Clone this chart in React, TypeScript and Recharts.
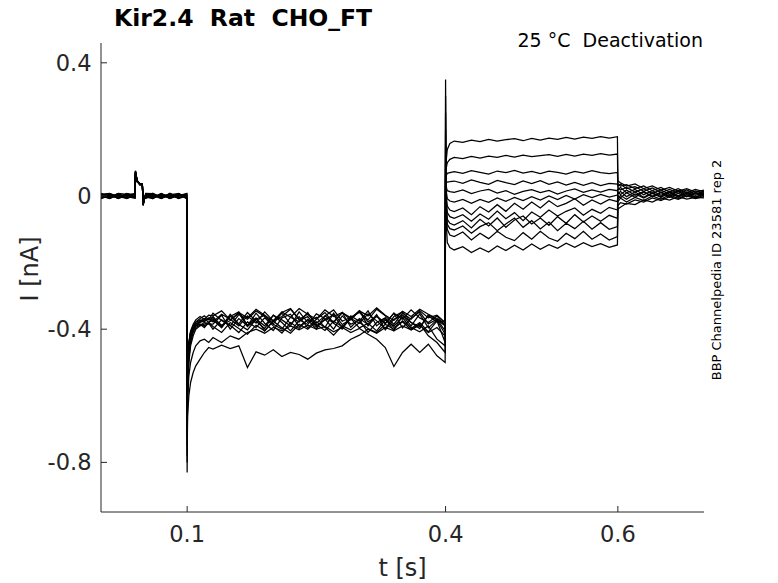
import React from 'react';
import { LineChart, Line, XAxis, YAxis } from 'recharts';

// sample times (s) for each part of the protocol
const tHold = [0, 0.01, 0.02, 0.03, 0.0395, 0.04, 0.042, 0.045, 0.048, 0.049, 0.05, 0.052, 0.06, 0.07, 0.08, 0.09, 0.0995];
const tStep = [0.1, 0.1005, 0.102, 0.104, 0.107, 0.11, 0.115, 0.12, 0.125, 0.13, 0.14, 0.15, 0.16, 0.17, 0.18, 0.19, 0.2, 0.21, 0.22, 0.23, 0.24, 0.25, 0.26, 0.27, 0.28, 0.29, 0.3, 0.31, 0.32, 0.33, 0.34, 0.35, 0.36, 0.37, 0.38, 0.39, 0.3995];
const tTest = [0.4, 0.4005, 0.402, 0.405, 0.41, 0.42, 0.43, 0.44, 0.45, 0.46, 0.47, 0.48, 0.49, 0.5, 0.51, 0.52, 0.53, 0.54, 0.55, 0.56, 0.57, 0.58, 0.59, 0.5995];
const tTail = [0.6, 0.6005, 0.603, 0.61, 0.62, 0.63, 0.64, 0.65, 0.66, 0.67, 0.68, 0.69, 0.7];

// current (nA) per sweep, holding part
const holdSweeps = [
  [0.006, -0.004, 0.007, -0.006, 0.003, 0.075, 0.046, 0.037, 0.035, -0.026, -0.008, 0.004, -0.006, 0.007, -0.004, 0.006, -0.002],
  [-0.007, 0.005, -0.004, 0.008, -0.002, 0.072, 0.044, 0.035, 0.033, -0.028, -0.01, -0.004, 0.007, -0.006, 0.008, -0.007, 0.004],
  [0.002, -0.008, 0.005, 0.0, 0.005, 0.07, 0.043, 0.038, 0.034, -0.024, -0.012, 0.006, 0.002, -0.008, 0.004, 0.007, -0.006],
  [-0.004, 0.007, -0.007, 0.004, -0.006, 0.074, 0.047, 0.034, 0.036, -0.025, -0.009, -0.002, -0.007, 0.004, -0.008, 0.002, 0.007],
  [0.008, 0.0, 0.004, -0.008, 0.002, 0.068, 0.045, 0.036, 0.032, -0.027, -0.011, 0.007, 0.005, -0.002, 0.006, -0.008, 0.0],
  [-0.002, -0.006, 0.008, 0.005, -0.004, 0.073, 0.042, 0.037, 0.035, -0.023, -0.007, 0.0, -0.004, 0.008, -0.007, 0.004, -0.007],
  [0.004, 0.008, -0.002, -0.007, 0.007, 0.071, 0.046, 0.035, 0.033, -0.026, -0.01, -0.006, 0.008, -0.004, 0.002, -0.006, 0.005],
  [-0.008, 0.002, -0.006, 0.007, 0.0, 0.076, 0.044, 0.036, 0.034, -0.029, -0.012, 0.004, -0.008, 0.006, -0.002, 0.008, -0.004],
  [0.007, -0.007, 0.002, -0.002, -0.007, 0.069, 0.045, 0.033, 0.036, -0.025, -0.008, -0.007, 0.004, -0.007, 0.007, -0.002, 0.008],
  [-0.006, 0.004, -0.008, 0.002, 0.008, 0.074, 0.043, 0.038, 0.032, -0.024, -0.011, 0.002, -0.002, 0.002, -0.006, 0.007, -0.008],
  [0.0, -0.002, 0.007, -0.004, -0.002, 0.07, 0.047, 0.034, 0.035, -0.027, -0.009, 0.008, 0.007, -0.007, 0.004, -0.004, 0.002],
  [0.004, 0.007, -0.004, 0.006, 0.004, 0.072, 0.044, 0.036, 0.033, -0.026, -0.01, -0.004, -0.006, 0.006, -0.007, 0.006, -0.006],
];

// hyperpolarising step 0.1 - 0.4 s
const stepSweeps = [
  [-0.83, -0.6, -0.5, -0.45, -0.42, -0.4, -0.39, -0.385, -0.38, -0.362, -0.392, -0.355, -0.384, -0.35, -0.376, -0.398, -0.358, -0.372, -0.39, -0.348, -0.38, -0.364, -0.395, -0.352, -0.386, -0.37, -0.345, -0.39, -0.36, -0.382, -0.352, -0.396, -0.366, -0.348, -0.384, -0.37, -0.405],
  [-0.78, -0.58, -0.49, -0.44, -0.41, -0.395, -0.388, -0.38, -0.385, -0.385, -0.358, -0.4, -0.368, -0.39, -0.352, -0.382, -0.404, -0.366, -0.355, -0.392, -0.372, -0.4, -0.36, -0.378, -0.35, -0.394, -0.368, -0.386, -0.356, -0.402, -0.37, -0.358, -0.39, -0.354, -0.396, -0.372, -0.415],
  [-0.72, -0.56, -0.48, -0.43, -0.405, -0.39, -0.38, -0.375, -0.37, -0.37, -0.395, -0.362, -0.348, -0.388, -0.366, -0.405, -0.374, -0.352, -0.384, -0.362, -0.396, -0.37, -0.35, -0.382, -0.4, -0.36, -0.376, -0.345, -0.39, -0.368, -0.404, -0.358, -0.38, -0.398, -0.356, -0.372, -0.39],
  [-0.68, -0.55, -0.47, -0.425, -0.4, -0.39, -0.385, -0.39, -0.382, -0.4, -0.372, -0.388, -0.41, -0.378, -0.395, -0.366, -0.39, -0.412, -0.38, -0.398, -0.37, -0.386, -0.404, -0.376, -0.392, -0.368, -0.396, -0.382, -0.405, -0.372, -0.39, -0.365, -0.398, -0.38, -0.408, -0.375, -0.44],
  [-0.65, -0.54, -0.46, -0.42, -0.398, -0.385, -0.378, -0.372, -0.368, -0.378, -0.355, -0.37, -0.39, -0.36, -0.382, -0.348, -0.375, -0.362, -0.34, -0.372, -0.386, -0.354, -0.368, -0.38, -0.35, -0.366, -0.345, -0.378, -0.362, -0.384, -0.352, -0.37, -0.342, -0.366, -0.38, -0.36, -0.39],
  [-0.62, -0.53, -0.455, -0.415, -0.395, -0.38, -0.372, -0.378, -0.366, -0.366, -0.388, -0.374, -0.352, -0.392, -0.37, -0.358, -0.385, -0.4, -0.364, -0.378, -0.35, -0.39, -0.372, -0.356, -0.396, -0.368, -0.382, -0.354, -0.375, -0.398, -0.362, -0.348, -0.38, -0.392, -0.36, -0.378, -0.375],
  [-0.6, -0.52, -0.45, -0.41, -0.39, -0.378, -0.368, -0.36, -0.372, -0.352, -0.374, -0.39, -0.356, -0.37, -0.345, -0.362, -0.384, -0.35, -0.338, -0.37, -0.355, -0.382, -0.36, -0.342, -0.376, -0.364, -0.35, -0.372, -0.34, -0.36, -0.385, -0.352, -0.37, -0.344, -0.366, -0.358, -0.38],
  [-0.58, -0.51, -0.445, -0.41, -0.392, -0.385, -0.375, -0.368, -0.38, -0.372, -0.395, -0.36, -0.386, -0.402, -0.37, -0.39, -0.358, -0.38, -0.405, -0.375, -0.362, -0.394, -0.37, -0.4, -0.36, -0.385, -0.372, -0.41, -0.38, -0.366, -0.395, -0.378, -0.402, -0.384, -0.42, -0.44, -0.47],
  [-0.56, -0.5, -0.44, -0.405, -0.385, -0.372, -0.362, -0.37, -0.358, -0.36, -0.345, -0.372, -0.35, -0.366, -0.34, -0.358, -0.376, -0.348, -0.364, -0.338, -0.355, -0.37, -0.342, -0.362, -0.35, -0.372, -0.345, -0.36, -0.336, -0.358, -0.374, -0.346, -0.362, -0.34, -0.355, -0.368, -0.385],
  [-0.55, -0.49, -0.44, -0.41, -0.395, -0.39, -0.385, -0.395, -0.38, -0.392, -0.41, -0.38, -0.398, -0.415, -0.388, -0.405, -0.376, -0.396, -0.412, -0.385, -0.4, -0.378, -0.394, -0.418, -0.39, -0.402, -0.38, -0.398, -0.41, -0.385, -0.4, -0.375, -0.395, -0.408, -0.39, -0.43, -0.45],
  [-0.8, -0.66, -0.6, -0.56, -0.53, -0.51, -0.49, -0.47, -0.455, -0.46, -0.448, -0.458, -0.45, -0.515, -0.468, -0.478, -0.462, -0.482, -0.47, -0.476, -0.49, -0.472, -0.462, -0.458, -0.45, -0.43, -0.418, -0.4, -0.412, -0.395, -0.405, -0.39, -0.402, -0.388, -0.41, -0.395, -0.42],
  [-0.75, -0.62, -0.54, -0.5, -0.47, -0.45, -0.435, -0.43, -0.44, -0.425, -0.44, -0.42, -0.43, -0.41, -0.4, -0.412, -0.395, -0.405, -0.39, -0.402, -0.388, -0.4, -0.392, -0.408, -0.395, -0.41, -0.398, -0.415, -0.43, -0.455, -0.512, -0.47, -0.445, -0.47, -0.445, -0.48, -0.5],
];

// test pulses 0.4 - 0.6 s
const testSweeps = [
  [0.35, 0.1, 0.14, 0.158, 0.165, 0.161, 0.168, 0.163, 0.17, 0.165, 0.169, 0.172, 0.166, 0.173, 0.168, 0.174, 0.17, 0.176, 0.171, 0.177, 0.173, 0.178, 0.174, 0.178],
  [0.3, 0.08, 0.1, 0.11, 0.116, 0.112, 0.119, 0.114, 0.12, 0.116, 0.122, 0.117, 0.123, 0.118, 0.121, 0.124, 0.119, 0.125, 0.12, 0.126, 0.122, 0.127, 0.123, 0.126],
  [0.25, 0.06, 0.068, 0.07, 0.073, 0.068, 0.076, 0.071, 0.066, 0.075, 0.07, 0.077, 0.069, 0.074, 0.067, 0.075, 0.071, 0.066, 0.074, 0.069, 0.076, 0.07, 0.067, 0.071],
  [0.2, 0.04, 0.042, 0.043, 0.045, 0.038, 0.048, 0.041, 0.035, 0.047, 0.04, 0.034, 0.045, 0.037, 0.046, 0.035, 0.042, 0.033, 0.041, 0.032, 0.04, 0.031, 0.038, 0.036],
  [0.15, 0.03, 0.016, 0.013, 0.011, 0.018, 0.007, 0.015, 0.02, 0.009, 0.016, 0.005, 0.014, 0.019, 0.01, 0.017, 0.006, 0.015, 0.021, 0.011, 0.018, 0.012, 0.02, 0.016],
  [0.12, 0.02, -0.008, -0.015, -0.018, -0.01, -0.022, -0.01, -0.019, -0.006, -0.016, -0.004, -0.014, -0.002, -0.012, 0.0, -0.011, 0.002, -0.009, 0.004, -0.005, 0.005, -0.003, 0.003],
  [0.1, 0.01, -0.03, -0.042, -0.047, -0.036, -0.056, -0.032, -0.048, -0.026, -0.046, -0.022, -0.04, -0.018, -0.036, -0.014, -0.032, -0.022, -0.008, -0.028, -0.012, -0.024, -0.01, -0.017],
  [0.08, 0.0, -0.05, -0.062, -0.067, -0.056, -0.076, -0.054, -0.07, -0.045, -0.068, -0.05, -0.074, -0.048, -0.064, -0.042, -0.06, -0.046, -0.036, -0.058, -0.04, -0.052, -0.034, -0.042],
  [0.06, -0.01, -0.07, -0.082, -0.087, -0.074, -0.096, -0.07, -0.09, -0.066, -0.094, -0.072, -0.06, -0.084, -0.066, -0.088, -0.062, -0.082, -0.056, -0.078, -0.06, -0.076, -0.058, -0.067],
  [0.05, -0.02, -0.085, -0.098, -0.102, -0.09, -0.112, -0.092, -0.08, -0.104, -0.084, -0.066, -0.094, -0.074, -0.099, -0.078, -0.104, -0.082, -0.098, -0.076, -0.1, -0.08, -0.1, -0.092],
  [0.04, -0.03, -0.1, -0.117, -0.122, -0.108, -0.132, -0.112, -0.128, -0.106, -0.124, -0.134, -0.11, -0.13, -0.106, -0.126, -0.136, -0.112, -0.128, -0.106, -0.13, -0.114, -0.132, -0.122],
  [0.03, -0.06, -0.14, -0.155, -0.162, -0.152, -0.17, -0.156, -0.168, -0.15, -0.164, -0.148, -0.162, -0.144, -0.16, -0.146, -0.157, -0.142, -0.154, -0.14, -0.152, -0.143, -0.154, -0.147],
];

// deactivating tails 0.6 - 0.7 s
const tailSweeps = [
  [0.048, 0.044, 0.04, 0.03, 0.036, 0.022, 0.03, 0.018, 0.026, 0.015, 0.022, 0.012, 0.018],
  [0.04, 0.036, 0.03, 0.034, 0.022, 0.03, 0.016, 0.026, 0.012, 0.022, 0.01, 0.02, 0.012],
  [0.034, 0.03, 0.036, 0.022, 0.028, 0.014, 0.024, 0.01, 0.02, 0.008, 0.018, 0.006, 0.014],
  [0.028, 0.024, 0.018, 0.026, 0.012, 0.022, 0.008, 0.018, 0.004, 0.016, 0.006, 0.015, 0.008],
  [0.022, 0.018, 0.026, 0.01, 0.02, 0.004, 0.016, 0.002, 0.014, 0.0, 0.012, 0.002, 0.01],
  [0.016, 0.012, 0.004, 0.018, 0.002, 0.014, -0.002, 0.012, 0.0, 0.014, -0.002, 0.01, 0.004],
  [0.01, 0.006, 0.014, -0.002, 0.012, -0.004, 0.01, -0.002, 0.012, 0.0, 0.01, -0.003, 0.008],
  [0.004, 0.0, -0.006, 0.01, -0.004, 0.012, -0.002, 0.01, -0.004, 0.008, -0.002, 0.01, 0.0],
  [-0.004, -0.008, 0.002, -0.01, 0.006, -0.006, 0.008, -0.004, 0.01, -0.003, 0.008, -0.004, 0.006],
  [-0.012, -0.016, -0.006, -0.018, -0.004, -0.014, 0.0, -0.01, 0.004, -0.008, 0.004, -0.006, 0.002],
  [-0.025, -0.028, -0.02, -0.024, -0.012, -0.018, -0.006, -0.014, -0.002, -0.01, 0.0, -0.008, -0.002],
  [-0.042, -0.038, -0.034, -0.022, -0.026, -0.012, -0.018, -0.006, -0.012, -0.002, -0.009, -0.004, -0.006],
];

const xTicks = [0.1, 0.4, 0.6];
const yTicks = [-0.8, -0.4, 0, 0.4];

const times = [...tHold, ...tStep, ...tTest, ...tTail];
const sweeps = holdSweeps.map((h, i) => [...h, ...stepSweeps[i], ...testSweeps[i], ...tailSweeps[i]]);
const data = times.map((t, k) => {
  const row: Record<string, number> = { t };
  sweeps.forEach((s, i) => { row[`s${i}`] = s[k]; });
  return row;
});

const AXIS = '#262626';
const FONT = '"DejaVu Sans", sans-serif';

const XTick = ({ x, y, payload }: any) => (
  <g>
    <line x1={x} x2={x} y1={y} y2={y - 6} stroke={AXIS} />
    <text x={x} y={y + 30} textAnchor="middle" fontSize={22.5} fill={AXIS} fontFamily={FONT}>
      {String(payload.value)}
    </text>
  </g>
);

const YTick = ({ x, y, payload }: any) => (
  <g>
    <line x1={x} x2={x + 6} y1={y} y2={y} stroke={AXIS} />
    <text x={x - 9.5} y={y + 8} textAnchor="end" fontSize={22.5} fill={AXIS} fontFamily={FONT}>
      {payload.value === 0 ? '0' : String(payload.value)}
    </text>
  </g>
);

export default function App() {
  return (
    <div style={{ position: 'absolute', left: 0, top: 0, width: 778, height: 583, background: '#fff', fontFamily: FONT }}>
      <LineChart width={778} height={583} data={data} margin={{ top: 43, right: 74, bottom: 0, left: 0 }}>
        <XAxis
          dataKey="t"
          type="number"
          domain={[0, 0.7]}
          ticks={xTicks}
          allowDataOverflow
          height={71}
          tickSize={0}
          tickMargin={0}
          tickLine={false}
          axisLine={{ stroke: AXIS }}
          tick={<XTick />}
        />
        <YAxis
          type="number"
          domain={[-0.949, 0.4595]}
          ticks={yTicks}
          allowDataOverflow
          width={101}
          tickSize={0}
          tickMargin={0}
          tickLine={false}
          axisLine={{ stroke: AXIS }}
          tick={<YTick />}
        />
        {sweeps.map((_, i) => (
          <Line
            key={i}
            type="linear"
            dataKey={`s${i}`}
            stroke="#000"
            strokeWidth={1.25}
            dot={false}
            activeDot={false}
            isAnimationActive={false}
          />
        ))}
      </LineChart>
      <svg width={778} height={583} style={{ position: 'absolute', left: 0, top: 0, pointerEvents: 'none' }}>
        <text x={114} y={26} fontSize={23.5} fontWeight="bold" fill="#000" fontFamily={FONT} style={{ whiteSpace: 'pre' }}>
          Kir2.4  Rat  CHO_FT
        </text>
        <text x={703} y={47} fontSize={19} textAnchor="end" fill="#000" fontFamily={FONT} style={{ whiteSpace: 'pre' }}>
          25 °C  Deactivation
        </text>
        <text transform="translate(721,270) rotate(-90)" fontSize={13} textAnchor="middle" fill="#000" fontFamily={FONT}>
          BBP Channelpedia ID 23581 rep 2
        </text>
        <text transform="translate(38,269) rotate(-90)" fontSize={24} textAnchor="middle" fill={AXIS} fontFamily={FONT}>
          I [nA]
        </text>
        <text x={402.6} y={576} fontSize={24} textAnchor="middle" fill={AXIS} fontFamily={FONT}>
          t [s]
        </text>
      </svg>
    </div>
  );
}
